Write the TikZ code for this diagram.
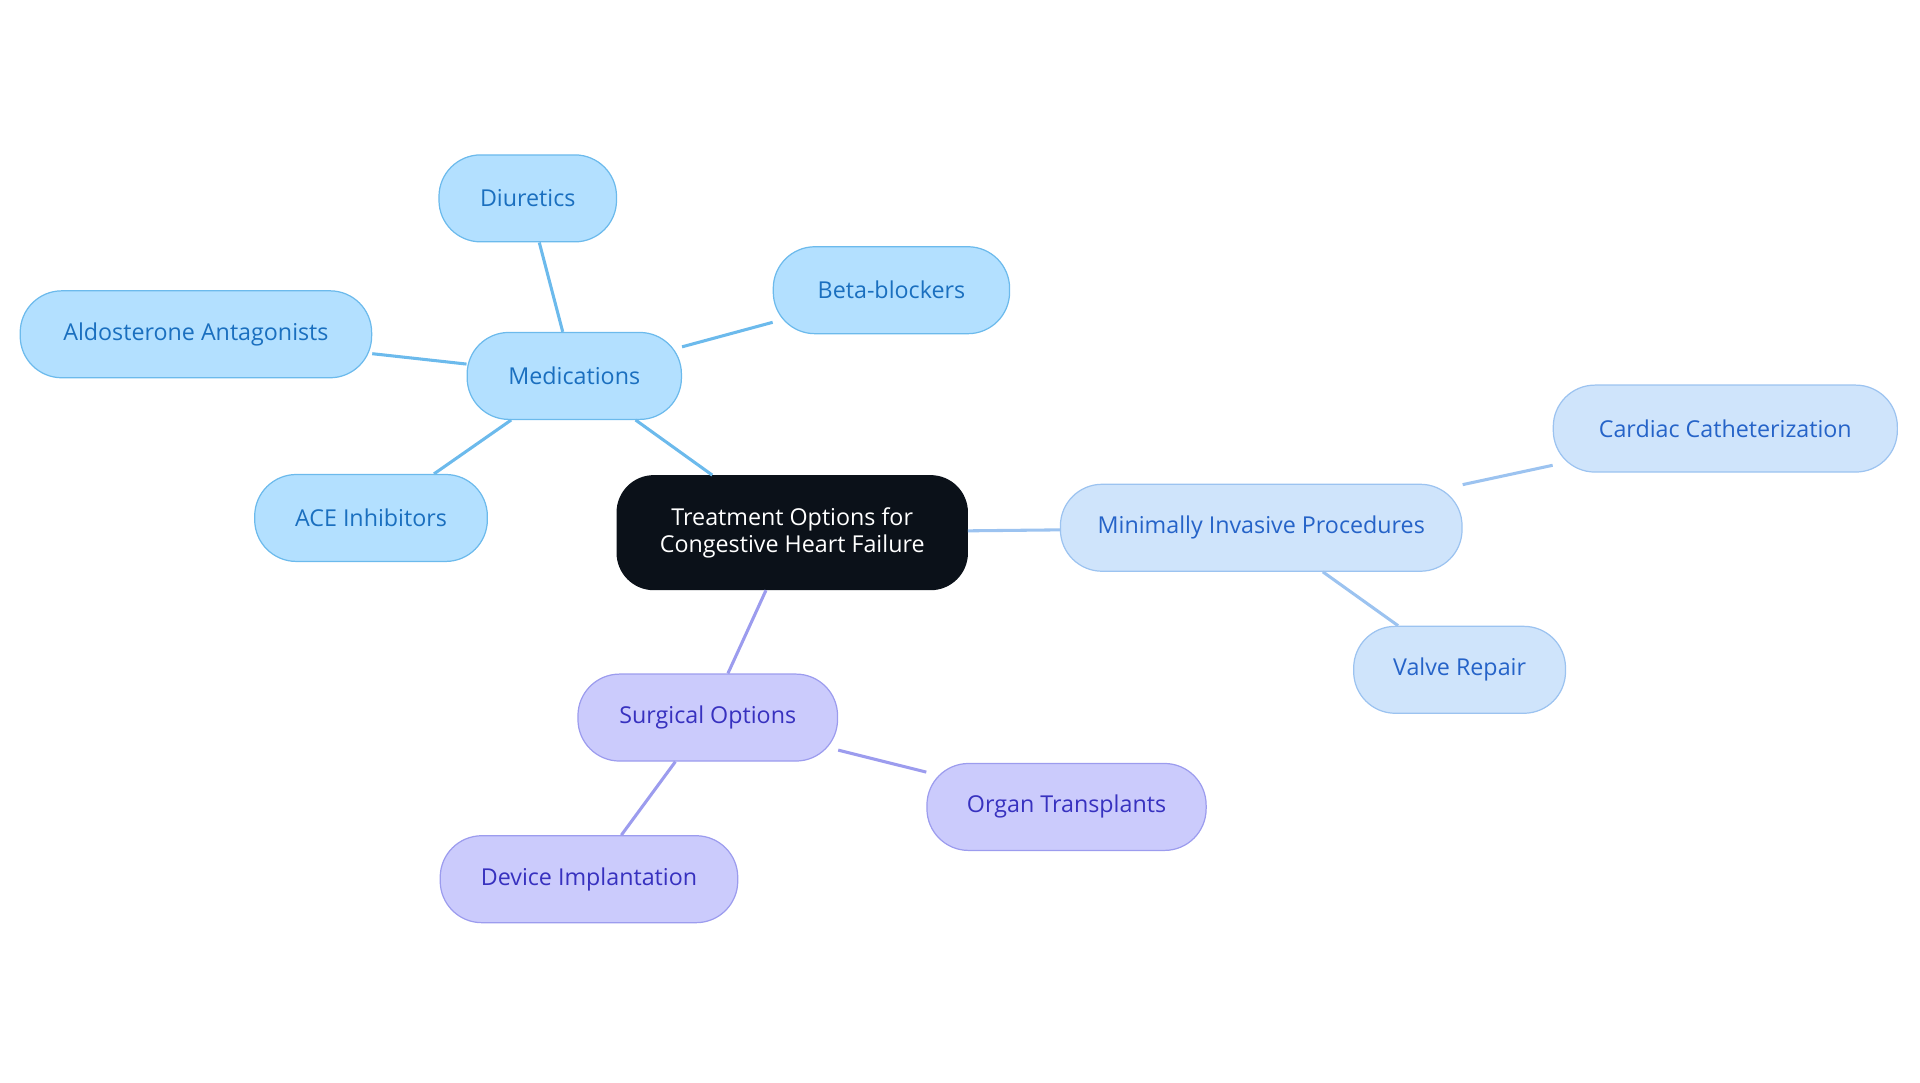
\documentclass[tikz,border=0pt]{standalone}
\usepackage{fontspec}
\setmainfont{Open Sans}
\definecolor{mfill}{HTML}{B3E0FF}\definecolor{mdraw}{HTML}{6CBAEC}\definecolor{mtext}{HTML}{1A6FBF}
\definecolor{pfill}{HTML}{CFE4FB}\definecolor{pdraw}{HTML}{9CC3F0}\definecolor{ptext}{HTML}{2563C8}
\definecolor{sfill}{HTML}{CBCBFC}\definecolor{sdraw}{HTML}{9C9CEE}\definecolor{stext}{HTML}{3731BF}
\definecolor{cfill}{HTML}{0B1119}
\begin{document}
\begin{tikzpicture}[x=1pt,y=-1pt,
 base/.style={rounded corners=34pt,line width=1pt,align=center,font=\fontsize{19}{22}\selectfont,inner sep=0pt,minimum height=71pt},
 med/.style={base,fill=mfill,draw=mdraw,text=mtext},
 pro/.style={base,fill=pfill,draw=pdraw,text=ptext},
 sur/.style={base,fill=sfill,draw=sdraw,text=stext},
 me/.style={draw=mdraw,line width=2.5pt},
 pe/.style={draw=pdraw,line width=2.5pt},
 se/.style={draw=sdraw,line width=2.5pt}]
\useasboundingbox (0,0) rectangle (1568,884);
\node[base,fill=cfill,draw=cfill,text=white,minimum width=286pt,minimum height=93pt,rounded corners=30pt] (c) at (647,435) {Treatment Options for\\Congestive Heart Failure};
\node[med,minimum width=175pt] (m) at (469,307) {Medications};
\node[med,minimum width=145pt] (d) at (431,162) {Diuretics};
\node[med,minimum width=193pt] (b) at (728,237) {Beta-blockers};
\node[med,minimum width=287pt] (a) at (160,273) {Aldosterone Antagonists};
\node[med,minimum width=190pt] (ace) at (303,423) {ACE Inhibitors};
\node[pro,minimum width=328pt] (p) at (1030,431) {Minimally Invasive Procedures};
\node[pro,minimum width=281pt] (cc) at (1409,350) {Cardiac Catheterization};
\node[pro,minimum width=173pt] (v) at (1192,547) {Valve Repair};
\node[sur,minimum width=212pt] (s) at (578,586) {Surgical Options};
\node[sur,minimum width=228pt] (o) at (871,659) {Organ Transplants};
\node[sur,minimum width=243pt] (di) at (481,718) {Device Implantation};
\begin{scope}[on background layer/.style={}]
\end{scope}
\draw[me] (c) -- (m); \draw[me] (m) -- (d); \draw[me] (m) -- (b); \draw[me] (m) -- (a); \draw[me] (m) -- (ace);
\draw[pe] (c) -- (p); \draw[pe] (p) -- (cc); \draw[pe] (p) -- (v);
\draw[se] (c) -- (s); \draw[se] (s) -- (o); \draw[se] (s) -- (di);
\end{tikzpicture}
\end{document}
